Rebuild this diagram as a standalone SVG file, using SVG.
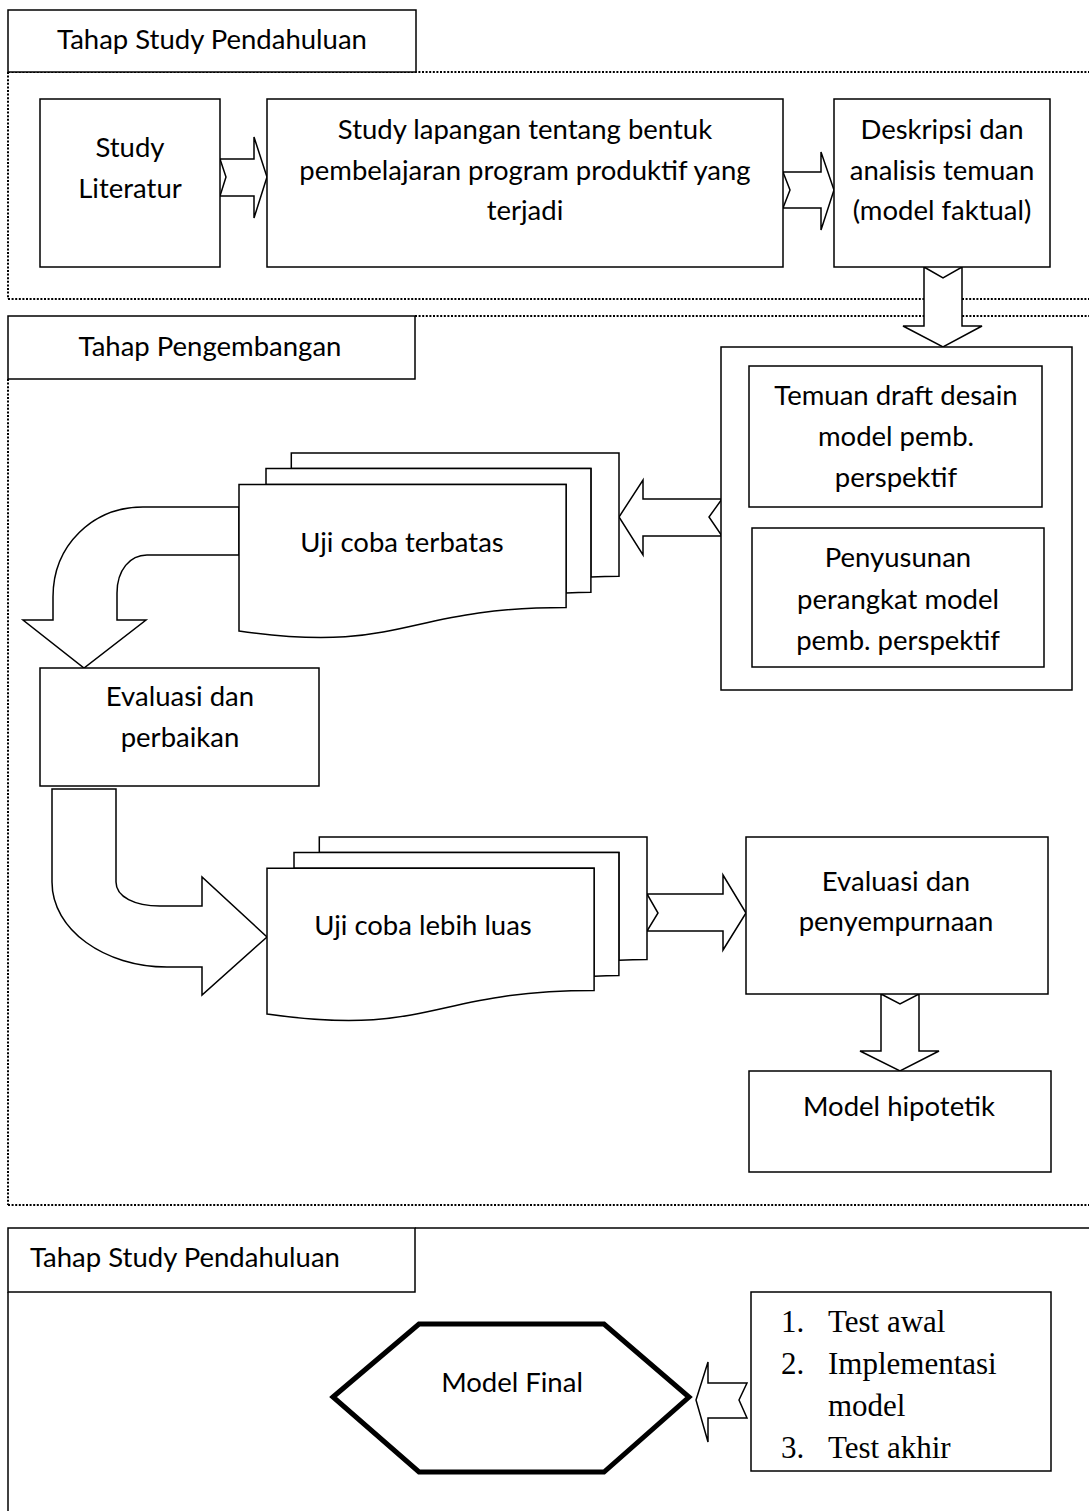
<svg xmlns="http://www.w3.org/2000/svg" width="1089" height="1511" viewBox="0 0 1089 1511">
<style>
.b{fill:#fff;stroke:#000;stroke-width:1.5}
.n{fill:none;stroke:#000;stroke-width:1.5}
.d{fill:none;stroke:#000;stroke-width:2;stroke-dasharray:2 1.6}
.t{font-family:Lato,"Liberation Sans",sans-serif;font-size:27.5px;fill:#000;text-anchor:middle}
.l{text-anchor:start}
.s{font-family:"Liberation Serif","Times New Roman",serif;font-size:31px;fill:#000}
</style>
<rect width="1089" height="1511" fill="#fff"/>
<g id="sections">
<line class="d" x1="8" y1="72" x2="1089" y2="72"/>
<line class="d" x1="8" y1="72" x2="8" y2="299"/>
<line class="d" x1="8" y1="299" x2="1089" y2="299"/>
<line class="d" x1="415" y1="316" x2="1089" y2="316"/>
<line class="d" x1="8" y1="379" x2="8" y2="1205"/>
<line class="d" x1="8" y1="1205" x2="1089" y2="1205"/>
<line class="n" x1="415" y1="1228" x2="1089" y2="1228"/>
<line class="n" x1="8" y1="1292" x2="8" y2="1511"/>
</g>
<g id="label1"><rect class="b" x="8" y="10" width="408" height="62"/><text class="t" x="212" y="49">Tahap Study Pendahuluan</text></g>
<g id="label2"><rect class="b" x="8" y="316" width="407" height="63"/><text class="t" x="210" y="356">Tahap Pengembangan</text></g>
<g id="label3"><rect class="b" x="8" y="1228" width="407" height="64"/><text class="t l" x="30" y="1267">Tahap Study Pendahuluan</text></g>
<g id="connectors">
<path class="b" d="M220,159 L254,159 L254,137 L267,177 L254,218 L254,196 L220,196 L226,177 Z"/>
<path class="b" d="M783,172 L821,172 L821,152 L834,190 L821,230 L821,208 L783,208 L790,190 Z"/>
<path class="b" d="M924,267 L943,278 L962,267 L962,326 L982,326 L943,347 L903,326 L924,326 Z"/>
<path class="b" d="M722,499 L643,499 L643,480 L619,517 L643,555 L643,536 L722,536 L709,517 Z"/>
<path class="b" d="M239,507 H143 C93,507 53,545 53,597 V620 H23 L84,668 L146,620 H117 V593 C117,570 130,555 147,555 H239 Z"/>
<path class="b" d="M52,789 H116 V882 C116,897 135,906 160,906 H202 V877 L267,937 L202,995 V967 H167 C105,967 52,930 52,882 Z"/>
<path class="b" d="M647,894 L723,894 L723,875 L746,913 L723,950 L723,931 L647,931 L658,913 Z"/>
<path class="b" d="M881,994 L900,1004 L919,994 L919,1051 L939,1051 L900,1071 L860,1051 L881,1051 Z"/>
<path class="b" d="M747,1383 L708,1383 L708,1362 L696,1400 L708,1442 L708,1418 L747,1418 L739,1400 Z"/>
</g>
<g id="study-literatur"><rect class="b" x="40" y="99" width="180" height="168"/><text class="t" x="130" y="157">Study</text><text class="t" x="130" y="198">Literatur</text></g>
<g id="study-lapangan"><rect class="b" x="267" y="99" width="516" height="168"/><text class="t" x="525" y="139">Study lapangan tentang bentuk</text><text class="t" x="525" y="180">pembelajaran program produktif yang</text><text class="t" x="525" y="220">terjadi</text></g>
<g id="deskripsi"><rect class="b" x="834" y="99" width="216" height="168"/><text class="t" x="942" y="139">Deskripsi dan</text><text class="t" x="942" y="180">analisis temuan</text><text class="t" x="942" y="220">(model faktual)</text></g>
<g id="container"><rect class="b" x="721" y="347" width="351" height="343"/></g>
<g id="temuan"><rect class="b" x="749" y="366" width="293" height="141"/><text class="t" x="896" y="405">Temuan draft desain</text><text class="t" x="896" y="446">model pemb.</text><text class="t" x="896" y="487">perspektif</text></g>
<g id="penyusunan"><rect class="b" x="752" y="528" width="292" height="139"/><text class="t" x="898" y="567">Penyusunan</text><text class="t" x="898" y="609">perangkat model</text><text class="t" x="898" y="650">pemb. perspektif</text></g>
<g id="uji-terbatas">
<path class="b" d="M291.3,468.5 V453 H619 V576.3 C604.9,576.3 590.9,576.9 590.9,576.9 V468.5 Z"/>
<path class="b" d="M266,484.5 V468.5 H590.9 V592.2 C578.5,592.2 566.1,593.1 566.1,593.1 V484.5 Z"/>
<path class="b" d="M239,631 C402.6,654.6 402.6,607.4 566.1,607.4 V484.5 H239 Z"/>
<text class="t" x="402" y="552">Uji coba terbatas</text>
</g>
<g id="evaluasi-perbaikan"><rect class="b" x="40" y="668" width="279" height="118"/><text class="t" x="180" y="706">Evaluasi dan</text><text class="t" x="180" y="747">perbaikan</text></g>
<g id="uji-luas">
<path class="b" d="M319.3,852.5 V837 H647 V959.6 C632.9,959.6 618.9,960.2 618.9,960.2 V852.5 Z"/>
<path class="b" d="M294,868.3 V852.5 H618.9 V975.4 C606.5,975.4 594.1,976.3 594.1,976.3 V868.3 Z"/>
<path class="b" d="M267,1014 C430.6,1037.5 430.6,990.5 594.1,990.5 V868.3 H267 Z"/>
<text class="t" x="423" y="935">Uji coba lebih luas</text>
</g>
<g id="evaluasi-penyempurnaan"><rect class="b" x="746" y="837" width="302" height="157"/><text class="t" x="896" y="891">Evaluasi dan</text><text class="t" x="896" y="931">penyempurnaan</text></g>
<g id="model-hipotetik"><rect class="b" x="749" y="1071" width="302" height="101"/><text class="t" x="899" y="1116">Model hipotetik</text></g>
<g id="model-final"><polygon points="333,1397 419,1324 604,1324 689,1397 604,1472 419,1472" fill="#fff" stroke="#000" stroke-width="5"/><text class="t" x="512" y="1392">Model Final</text></g>
<g id="list"><rect class="b" x="751" y="1292" width="300" height="179"/>
<text class="s" x="781" y="1332">1.</text><text class="s" x="828" y="1332">Test awal</text>
<text class="s" x="781" y="1374">2.</text><text class="s" x="828" y="1374">Implementasi</text>
<text class="s" x="828" y="1416">model</text>
<text class="s" x="781" y="1458">3.</text><text class="s" x="828" y="1458">Test akhir</text>
</g>
</svg>
